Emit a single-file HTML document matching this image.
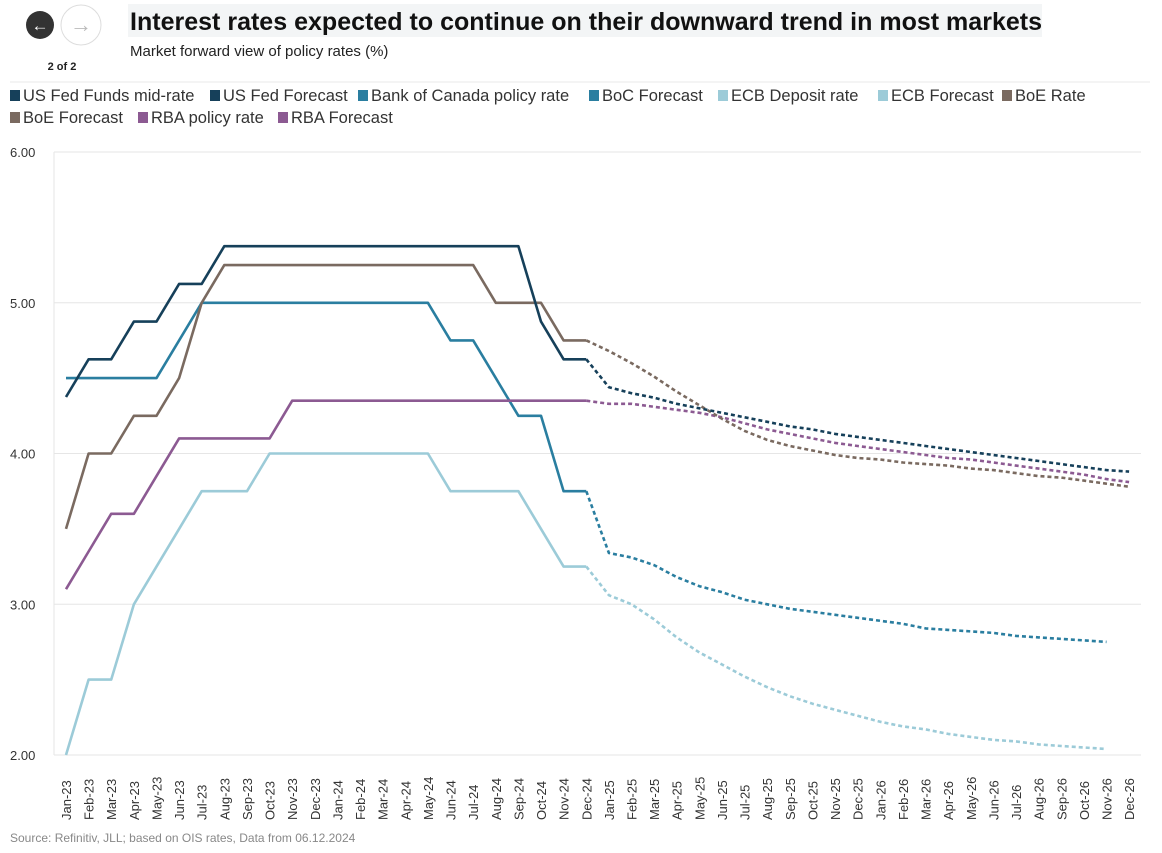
<!DOCTYPE html>
<html><head><meta charset="utf-8"><style>
body{margin:0;background:#fff;width:1162px;height:848px;overflow:hidden;font-family:"Liberation Sans",sans-serif;}
</style></head><body>
<svg id="s" width="1162" height="848" xmlns="http://www.w3.org/2000/svg" font-family="Liberation Sans, sans-serif">
<circle cx="40" cy="25" r="14" fill="#333"/>
<text x="40" y="31" font-size="17" fill="#fff" text-anchor="middle" font-weight="bold">←</text>
<circle cx="81" cy="25" r="20" fill="#fff" stroke="#ddd"/>
<text x="81" y="32" font-size="22" fill="#bbb" text-anchor="middle" font-weight="bold">→</text>
<text x="62" y="70" font-size="11" font-weight="bold" fill="#222" text-anchor="middle">2 of 2</text>
<rect x="128" y="4" width="914" height="33" fill="#f3f5f6"/>
<text x="130" y="30" font-size="25" font-weight="bold" fill="#111" textLength="912">Interest rates expected to continue on their downward trend in most markets</text>
<text x="130" y="56" font-size="15" fill="#222">Market forward view of policy rates (%)</text>
<line x1="10" y1="82" x2="1150" y2="82" stroke="#e8e8e8"/>
<g id="g"></g>
<text x="10" y="842" font-size="12" fill="#888">Source: Refinitiv, JLL; based on OIS rates, Data from 06.12.2024</text>
</svg>
<script>
const g=document.getElementById('g');let h='';
const X=i=>66+i*22.62, Y=v=>755-(v-2)*150.75;
// legend
const leg=[["US Fed Funds mid-rate","#16405a",10,101],["US Fed Forecast","#16405a",210,101],["Bank of Canada policy rate","#2a7ea0",358,101],["BoC Forecast","#2a7ea0",589,101],["ECB Deposit rate","#9ccbd8",718,101],["ECB Forecast","#9ccbd8",878,101],["BoE Rate","#7a6a60",1002,101],["BoE Forecast","#7a6a60",10,123],["RBA policy rate","#8c5a92",138,123],["RBA Forecast","#8c5a92",278,123]];
leg.forEach(l=>{h+=`<rect x="${l[2]}" y="${l[3]-11}" width="10" height="11" fill="${l[1]}"/><text x="${l[2]+13}" y="${l[3]}" font-size="16.5" fill="#333">${l[0]}</text>`;});
// grid
for(let v=2;v<=6;v++){const y=Y(v);h+=`<line x1="54" y1="${y}" x2="1141" y2="${y}" stroke="#e6e6e6"/><text x="10" y="${y+5}" font-size="13" fill="#333">${v.toFixed(2)}</text>`;}
h+=`<line x1="54" y1="152" x2="54" y2="755" stroke="#e6e6e6"/>`;
const m=["Jan","Feb","Mar","Apr","May","Jun","Jul","Aug","Sep","Oct","Nov","Dec"];
for(let i=0;i<48;i++){const x=X(i)+5;h+=`<text transform="translate(${x},820) rotate(-90)" font-size="13" fill="#333">${m[i%12]}-${23+Math.floor(i/12)}</text>`;}
function line(arr,start,c,dash){const p=arr.map((v,i)=>`${X(start+i).toFixed(1)},${Y(v).toFixed(1)}`).join(' ');h+=`<polyline points="${p}" fill="none" stroke="${c}" stroke-width="2.6" stroke-linejoin="round" ${dash?'stroke-dasharray="4,3"':''}/>`;}
const fed=[4.375,4.625,4.625,4.875,4.875,5.125,5.125,5.375,5.375,5.375,5.375,5.375,5.375,5.375,5.375,5.375,5.375,5.375,5.375,5.375,5.375,4.875,4.625,4.625];
const fedF=[4.625,4.44,4.40,4.37,4.33,4.30,4.27,4.24,4.21,4.18,4.16,4.13,4.11,4.09,4.07,4.05,4.03,4.01,3.99,3.97,3.95,3.93,3.91,3.89,3.88];
const boc=[4.5,4.5,4.5,4.5,4.5,4.75,5,5,5,5,5,5,5,5,5,5,5,4.75,4.75,4.5,4.25,4.25,3.75,3.75];
const bocF=[3.75,3.34,3.31,3.26,3.18,3.12,3.08,3.03,3.00,2.97,2.95,2.93,2.91,2.89,2.87,2.84,2.83,2.82,2.81,2.79,2.78,2.77,2.76,2.75];
const ecb=[2,2.5,2.5,3,3.25,3.5,3.75,3.75,3.75,4,4,4,4,4,4,4,4,3.75,3.75,3.75,3.75,3.5,3.25,3.25];
const ecbF=[3.25,3.06,3.00,2.90,2.78,2.68,2.60,2.52,2.45,2.39,2.34,2.30,2.26,2.22,2.19,2.17,2.14,2.12,2.10,2.09,2.07,2.06,2.05,2.04];
const boe=[3.5,4,4,4.25,4.25,4.5,5,5.25,5.25,5.25,5.25,5.25,5.25,5.25,5.25,5.25,5.25,5.25,5.25,5,5,5,4.75,4.75];
const boeF=[4.75,4.68,4.60,4.51,4.41,4.32,4.23,4.15,4.09,4.05,4.02,3.99,3.97,3.96,3.94,3.93,3.92,3.90,3.89,3.87,3.85,3.84,3.82,3.80,3.78];
const rba=[3.1,3.35,3.6,3.6,3.85,4.1,4.1,4.1,4.1,4.1,4.35,4.35,4.35,4.35,4.35,4.35,4.35,4.35,4.35,4.35,4.35,4.35,4.35,4.35];
const rbaF=[4.35,4.33,4.33,4.31,4.29,4.27,4.24,4.20,4.16,4.13,4.10,4.07,4.05,4.03,4.01,3.99,3.97,3.96,3.94,3.92,3.90,3.88,3.86,3.83,3.81];
line(ecb,0,"#9ccbd8");line(ecbF,23,"#9ccbd8",1);
line(boc,0,"#2a7ea0");line(bocF,23,"#2a7ea0",1);
line(rba,0,"#8c5a92");line(rbaF,23,"#8c5a92",1);
line(boe,0,"#7a6a60");line(boeF,23,"#7a6a60",1);
line(fed,0,"#16405a");line(fedF,23,"#16405a",1);
g.innerHTML=h;
</script>
</body></html>
